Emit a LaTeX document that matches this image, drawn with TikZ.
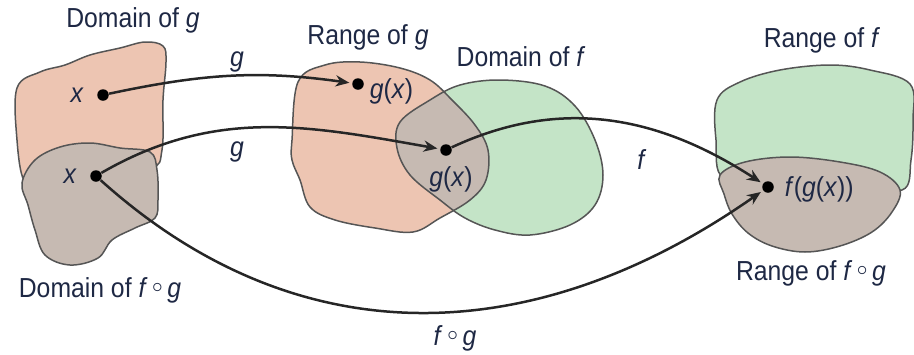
\documentclass[tikz,border=0pt]{standalone}
\usepackage{fontspec}
\setmainfont{Liberation Sans}[FakeStretch=0.9]
\usetikzlibrary{arrows.meta,positioning,calc}

\definecolor{salmon}{RGB}{237,197,178}
\definecolor{mint}{RGB}{196,228,199}
\definecolor{taupe}{RGB}{198,186,178}
\definecolor{edge}{RGB}{85,85,85}
\definecolor{ink}{RGB}{30,40,68}

\newcommand{\vr}[1]{\textit{#1}}
\newcommand{\comp}{\vr{f}\,\raisebox{0.3ex}{$\scriptstyle\circ$}\,\vr{g}}

\tikzset{
  blob/.style={draw=edge, line width=0.6pt},
  dot/.style={circle, fill=black, inner sep=0pt, minimum size=4.6pt},
  lbl/.style={text=ink, font=\fontsize{11}{13}\selectfont, inner sep=1pt},
  map/.style={draw=black!85, line width=1pt, -{Stealth[length=5.5pt,width=4.5pt]}, shorten >=1pt}
}

\begin{document}
\begin{tikzpicture}[x=0.4pt, y=-0.4pt]
	\useasboundingbox (0,0) rectangle (914,354);

	%% Domain of g and domain of f o g
	\path[blob, fill=salmon] plot[smooth cycle, tension=0.6] coordinates {
	  (17,88) (40,72) (65,65) (90,55) (120,48) (145,42) (163,46) (166,62)
	  (163,100) (162,150) (150,168) (90,165) (40,172) (24,180) (17,140)};
	\path[blob, fill=taupe] plot[smooth cycle, tension=0.6] coordinates {
	  (22,183) (35,160) (60,147) (90,143) (120,148) (150,152) (157,170)
	  (158,200) (155,218) (135,228) (112,240) (98,258) (70,265) (45,255)
	  (35,230) (28,205)};

	%% Range of g, domain of f and their overlap
	\def\rangeg{plot[smooth cycle, tension=0.6] coordinates {
	  (292,140) (298,82) (325,65) (360,62) (400,68) (430,80) (452,100)
	  (475,125) (488,150) (486,180) (470,200) (440,218) (413,232)
	  (375,228) (335,220) (310,207) (300,180) (292,160)}}
	\def\domf{plot[smooth cycle, tension=0.6] coordinates {
	  (400,122) (430,100) (460,85) (500,80) (545,86) (575,106) (595,140)
	  (603,175) (595,205) (570,225) (530,235) (495,230) (465,218)
	  (440,200) (410,175) (397,148)}}
	\path[fill=salmon] \rangeg;
	\path[fill=mint] \domf;
	\begin{scope}
	  \clip \rangeg;
	  \path[fill=taupe] \domf;
	\end{scope}
	\path[blob] \rangeg;
	\path[blob] \domf;

	%% Range of f and range of f o g
	\path[blob, fill=mint] plot[smooth cycle, tension=0.6] coordinates {
	  (717,100) (740,82) (780,70) (830,65) (870,70) (910,84) (913,120)
	  (911,160) (902,190) (850,180) (780,172) (724,178) (716,140)};
	\path[blob, fill=taupe] plot[smooth cycle, tension=0.6] coordinates {
	  (720,175) (745,162) (790,157) (840,162) (880,172) (900,190) (892,212)
	  (872,232) (840,246) (805,252) (772,246) (748,233) (732,214) (724,194)};

	%% points
	\node[dot] (x1) at (103,95) {};
	\node[dot] (x2) at (96,176) {};
	\node[dot] (gx1) at (358,84) {};
	\node[dot] (gx2) at (446,150) {};
	\node[dot] (fgx) at (768,187) {};

	\node[lbl, left=4pt of x1] (x1lbl) {\vr{x}};
	\node[lbl, left=4pt of x2] (x2lbl) {\vr{x}};
	\node[lbl, right=1pt of gx1, yshift=-3pt] (gx1lbl) {\vr{g}(\vr{x})};
	\node[lbl, below=3pt of gx2, xshift=2pt] (gx2lbl) {\vr{g}(\vr{x})};
	\node[lbl, right=3pt of fgx, yshift=-1pt] (fgxlbl) {\vr{f}(\vr{g}(\vr{x}))};

	%% set names
	\node[lbl] (domg) at (133,20) {Domain of \vr{g}};
	\node[lbl] (rang) at (368,37) {Range of \vr{g}};
	\node[lbl] (domf) at (521,57) {Domain of \vr{f}};
	\node[lbl] (ranf) at (822,40) {Range of \vr{f}};
	\node[lbl] (domfg) at (100,290) {Domain of \comp};
	\node[lbl] (ranfg) at (811,273) {Range of \comp};

	%% mappings
	\draw[map] (x1) to[out=12, in=172] (gx1);
	\draw[map] (x2) to[out=30, in=170] (gx2);
	\draw[map] (gx2) to[out=25, in=147] (fgx);
	\draw[map] (x2) to[out=-42, in=215, looseness=1.05] (fgx);

	\node[lbl] (g1) at (237,62) {\vr{g}};
	\node[lbl] (g2) at (237,152) {\vr{g}};
	\node[lbl] (f1) at (642,160) {\vr{f}};
	\node[lbl] (fg) at (455,338) {\comp};
\end{tikzpicture}
\end{document}
